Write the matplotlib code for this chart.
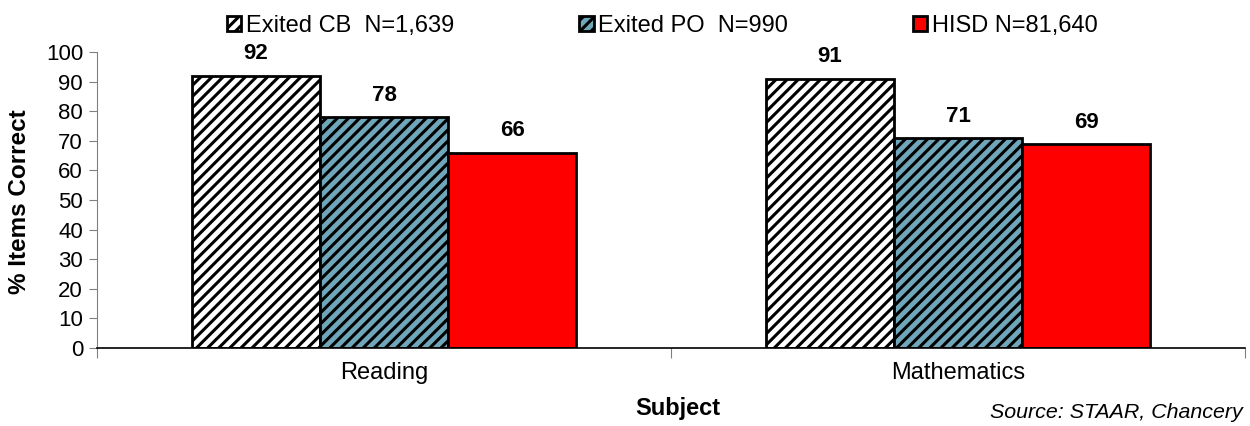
import matplotlib.pyplot as plt
import numpy as np

plt.rcParams["font.family"] = ["Liberation Sans", "DejaVu Sans"]
plt.rcParams["hatch.linewidth"] = 2.2

subjects = ["Reading", "Mathematics"]
series = ["Exited CB  N=1,639", "Exited PO  N=990", "HISD N=81,640"]
values = [
    [92, 91],
    [78, 71],
    [66, 69],
]
colors = ["white", "#6FA6BA", "#FF0000"]
hatches = ["///", "///", None]

fig = plt.figure(figsize=(12.5, 4.26), dpi=100)
ax = fig.add_axes([0.0776, 0.183, 0.9184, 0.695])

x = np.arange(len(subjects))
w = 0.223
for i, (name, vals) in enumerate(zip(series, values)):
    pos = x + (i - 1) * w
    bars = ax.bar(pos, vals, w, color=colors[i], edgecolor="black", linewidth=2,
                  hatch=hatches[i], label=name)
    for b, v in zip(bars, vals):
        ax.text(b.get_x() + b.get_width() / 2, v + 3.8, str(v), ha="center",
                va="bottom", fontsize=16, fontweight="bold")

ax.set_xlim(-0.5, 1.5)
ax.set_ylim(0, 100)
ax.set_yticks(range(0, 101, 10))
ax.set_xticks([-0.5, 0.5, 1.5])
ax.set_xticklabels([])
ax.set_xticks(x, minor=True)
ax.set_xticklabels(subjects, minor=True)
ax.tick_params(axis="x", which="minor", length=0, labelsize=17, pad=10)
ax.tick_params(axis="x", which="major", length=7, color="#808080")
ax.tick_params(axis="y", labelsize=16, length=6, color="#808080", pad=4)

for s in ["top", "right"]:
    ax.spines[s].set_visible(False)
ax.spines["left"].set_color("#808080")
ax.spines["bottom"].set_color("black")
ax.spines["bottom"].set_linewidth(1.2)

fig.text(20 / 1250, 1 - 202 / 426, "% Items Correct", rotation=90, ha="center",
         va="center", fontsize=17.5, fontweight="bold")
fig.text(678 / 1250, 1 - 408 / 426, "Subject", ha="center", va="center",
         fontsize=17, fontweight="bold")
fig.text(0.994, 1 - 412 / 426, "Source: STAAR, Chancery", ha="right",
         va="center", fontsize=15.4, style="italic")

leg = fig.legend(loc="center", bbox_to_anchor=(0.53, 0.939), ncol=3,
                 frameon=False, fontsize=17, handlelength=0.6, handleheight=0.6,
                 handletextpad=0.2, columnspacing=5.3)

fig.savefig("out.png", dpi=100)
